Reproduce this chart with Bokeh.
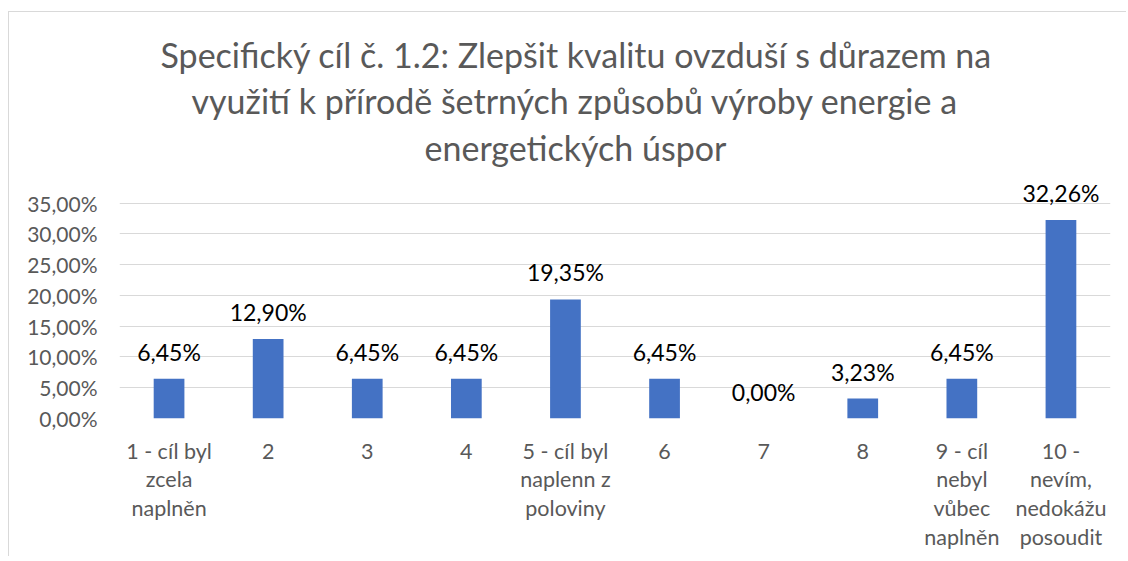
from bokeh.plotting import figure
from bokeh.models import ColumnDataSource, FixedTicker, Range1d, Title
from bokeh.core.properties import value
from bokeh.embed import file_html
from bokeh.resources import INLINE

categories = ["1 - cíl byl\nzcela\nnaplněn", "2", "3", "4", "5 - cíl byl\nnaplenn z\npoloviny",
              "6", "7", "8", "9 - cíl\nnebyl\nvůbec\nnaplněn", "10 -\nnevím,\nnedokážu\nposoudit"]
values = [6.45, 12.90, 6.45, 6.45, 19.35, 6.45, 0.00, 3.23, 6.45, 32.26]
y_ticks = [0, 5, 10, 15, 20, 25, 30, 35]
title_lines = ["Specifický cíl č. 1.2: Zlepšit kvalitu ovzduší s důrazem na",
               "využití k přírodě šetrných způsobů výroby energie a",
               "energetických úspor"]
# horizontal offsets (px from plot-area left) that centre each title line over the chart area
title_offsets = [41, 72, 305]
title_standoffs = [4, 2, 6]

FONT = "Lato"
xs = list(range(1, len(categories) + 1))
labels = [f"{v:.2f}".replace(".", ",") + "%" for v in values]
src = ColumnDataSource(dict(x=xs, top=values, label=labels))

p = figure(width=1118, height=545, output_backend="svg", toolbar_location=None,
           x_range=Range1d(0.5, 10.5), y_range=Range1d(0, 40.3),
           min_border_left=110, min_border_right=17, min_border_top=158, min_border_bottom=139)
p.styles = {"margin-left": "8px", "margin-top": "11px",
            "border-left": "1px solid #d9d9d9", "border-top": "1px solid #d9d9d9"}
p.outline_line_color = None
p.title.visible = False

n = len(title_lines)
for i in reversed(range(n)):
    p.add_layout(Title(text=title_lines[i], align="left", offset=title_offsets[i],
                       text_font=FONT, text_font_size="34px",
                       text_font_style="normal", text_color="#595959",
                       standoff=title_standoffs[i],
                       text_line_height=1.0), "above")

p.vbar(x="x", top="top", width=0.31, bottom=0, source=src, fill_color="#4472C4", line_color=None)
p.text(x="x", y="top", text="label", source=src, text_align="center", text_baseline="middle",
       y_offset=-27, text_font=value(FONT), text_font_size="23px", text_color="#000000")

p.xgrid.visible = False
p.ygrid.ticker = FixedTicker(ticks=y_ticks)
p.ygrid.grid_line_color = "#d9d9d9"
p.ygrid.grid_line_width = 1

p.yaxis.ticker = FixedTicker(ticks=y_ticks)
p.yaxis.major_label_overrides = {t: f"{t:.2f}".replace(".", ",") + "%" for t in y_ticks}
p.yaxis.axis_line_color = None
p.yaxis.major_tick_line_color = None
p.yaxis.minor_tick_line_color = None
p.yaxis.major_label_text_font = FONT
p.yaxis.major_label_text_font_size = "21px"
p.yaxis.major_label_text_color = "#595959"
p.yaxis.major_label_standoff = 16

p.xaxis.ticker = FixedTicker(ticks=xs)
p.xaxis.major_label_overrides = {x: c for x, c in zip(xs, categories)}
p.xaxis.axis_line_color = None
p.xaxis.major_tick_line_color = None
p.xaxis.minor_tick_line_color = None
p.xaxis.major_label_text_font = FONT
p.xaxis.major_label_text_font_size = "21.5px"
p.xaxis.major_label_text_color = "#595959"
p.xaxis.major_label_text_line_height = 1.11
p.xaxis.major_label_standoff = 13

open("out.html", "w").write(file_html(p, INLINE))
